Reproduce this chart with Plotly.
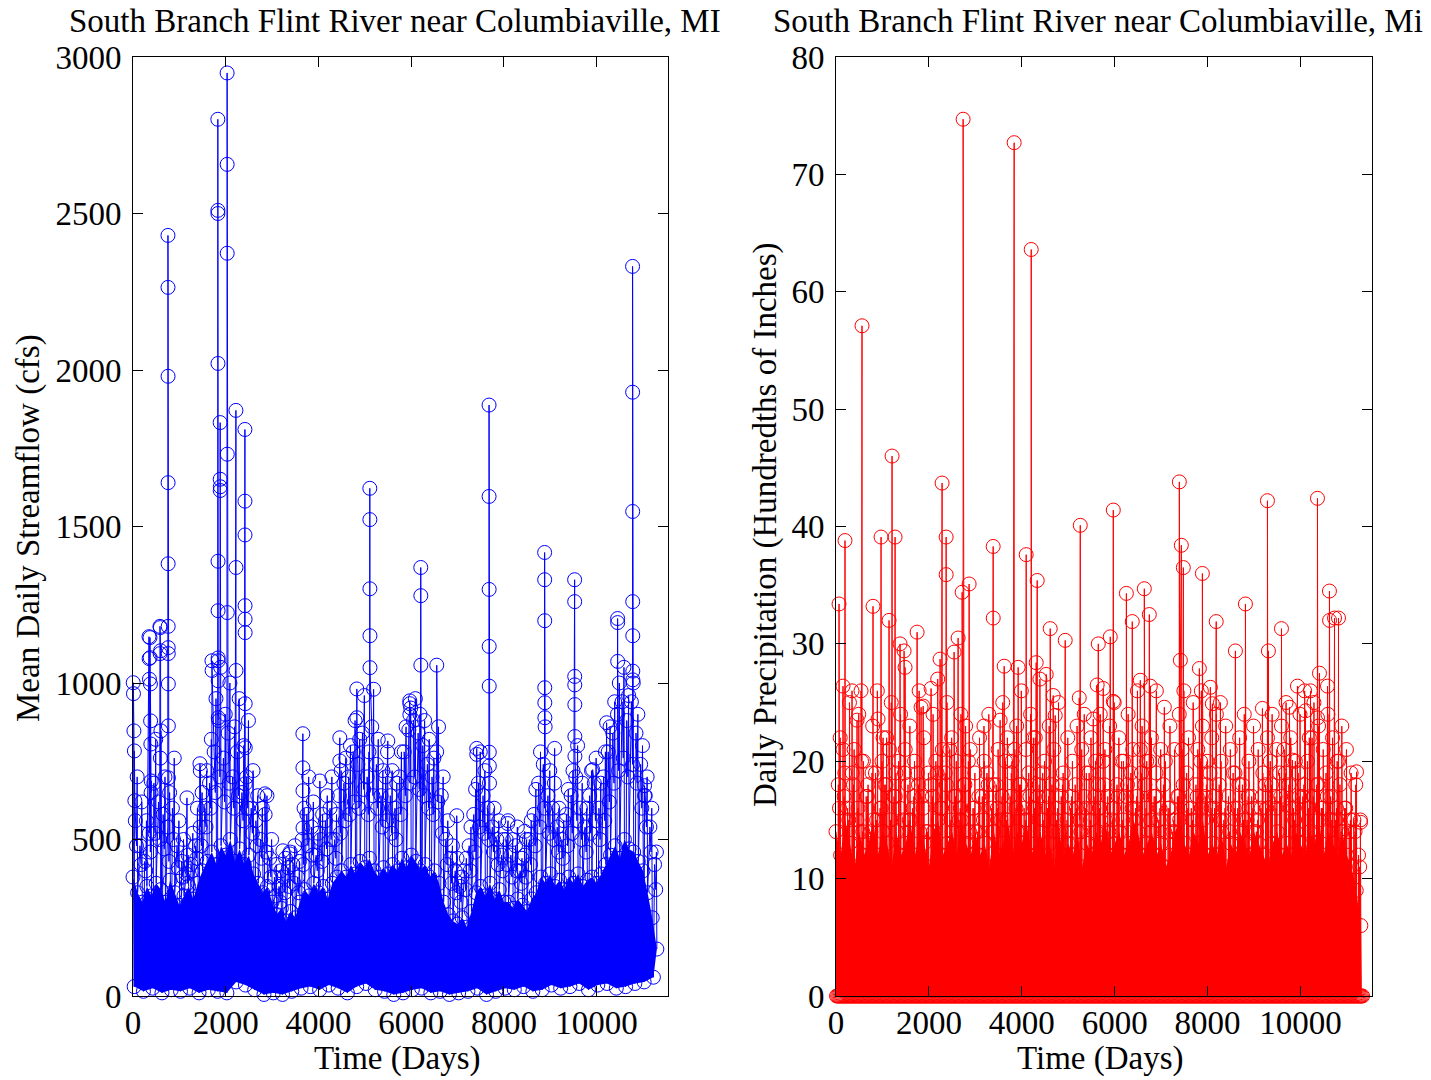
import plotly.graph_objects as go

# ---------------- Left panel: mean daily streamflow (cfs) ----------------
# top of the dense (solid) part of the hydrograph, read every 100 days
band_days = list(range(0, 11400, 100))
band_high_cfs = [380, 330, 300, 350, 320, 360, 340, 300, 370, 330, 290, 320, 350, 310, 360,
                 400, 430, 460, 420, 480, 450, 500, 430, 470, 420, 450, 390,
                 360, 330, 350, 300,
                 260, 280, 240, 270, 250, 300,
                 340, 320, 360, 330, 350, 310, 360, 380,
                 400, 380, 420, 390, 430, 410, 440, 400, 380, 410,
                 390, 420, 400, 440, 410, 450, 430, 400, 420, 380, 400, 360,
                 300, 260, 240, 230, 250, 220, 270,
                 330, 350, 320, 360, 310, 340, 300,
                 300, 280, 310, 290, 270, 310, 330,
                 380, 360, 390, 350, 370, 340, 380, 360, 390, 350, 370, 380, 360, 390, 420,
                 450, 480, 440, 500, 470, 460, 430, 400,
                 330, 250, 150]
# low-flow floor, read every 200 days
low_days = list(range(25, 11400, 200))
low_cfs = [30, 15, 25, 10, 20, 15, 25, 10, 20, 15, 10, 45, 35, 20, 5,
           10, 5, 15, 25, 30, 20, 35, 25, 10, 30, 40, 20, 15, 5,
           10, 20, 25, 10, 15, 5, 10, 15, 25, 5, 15, 25, 20, 30,
           15, 20, 35, 25, 30, 40, 20, 35, 40, 25, 30, 40, 45,
           60]
# fringe of moderate high flows
fringe_days = list(range(50, 11300, 100))
fringe_cfs = [560, 480, 430, 520, 680, 620, 580, 540, 600, 480, 430, 390, 420, 480, 540,
              600, 680, 780, 880, 760, 840, 700, 780, 650, 700, 600, 560, 500,
              580, 440, 380, 350, 380, 410, 420, 380, 500, 580, 540, 450, 500,
              560, 600, 500, 640, 680, 700, 780, 740, 840, 700, 860, 740, 640,
              700, 640, 600, 700, 780, 850, 880, 840, 800, 740, 700, 780, 640,
              500, 440, 400, 350, 400, 480, 580, 680, 640, 600, 540, 500, 450,
              500, 450, 480, 400, 450, 500, 580, 680, 740, 640, 600, 540, 500,
              580, 640, 700, 600, 540, 640, 680, 600, 700, 780, 840, 900,
              940, 880, 940, 840, 740, 640, 540, 420]
# intermediate flows between the solid part and the fringe
mid_days = list(range(75, 11300, 100))
mid_cfs = [480, 420, 400, 460, 520, 500, 470, 430, 500, 410, 380, 360, 400, 440, 480,
           540, 600, 650, 700, 620, 680, 600, 640, 560, 600, 520, 480, 440,
           460, 380, 320, 300, 330, 350, 360, 330, 420, 480, 450, 400, 430,
           470, 500, 440, 520, 560, 580, 620, 600, 660, 580, 640, 600, 540,
           560, 520, 500, 580, 640, 680, 700, 660, 640, 600, 580, 620, 520,
           420, 360, 330, 300, 340, 400, 460, 540, 520, 500, 460, 420, 400,
           420, 380, 400, 360, 380, 420, 480, 540, 600, 520, 500, 460, 440,
           480, 520, 560, 500, 460, 520, 560, 500, 560, 620, 680, 720,
           760, 700, 740, 680, 600, 540, 460, 340]
# higher scattered flows above the fringe
upper_days = list(range(90, 11300, 100))
upper_cfs = [700, 620, 560, 650, 820, 760, 700, 650, 760, 560, 500, 450, 520, 600, 650,
             720, 820, 950, 1050, 900, 1000, 860, 950, 800, 880, 720, 640, 600,
             640, 500, 420, 400, 440, 460, 480, 430, 600, 700, 620, 520, 580,
             640, 700, 580, 720, 760, 800, 880, 820, 960, 780, 980, 820, 720,
             780, 720, 680, 780, 860, 920, 950, 900, 880, 820, 760, 860, 700,
             560, 480, 440, 380, 440, 540, 660, 780, 720, 680, 600, 560, 500,
             560, 500, 540, 440, 500, 560, 660, 780, 860, 720, 680, 600, 560,
             660, 720, 800, 680, 600, 720, 760, 680, 780, 860, 940, 1000,
             1050, 960, 1000, 900, 800, 700, 600, 460]
# individual flood peaks (consecutive days around each event)
peak_days = [5, 10, 20, 30, 40, 345, 348, 355, 366, 370, 376, 380, 385, 392,
             582, 585, 588, 595, 602,
             754, 755, 756, 757, 758, 759, 760, 761, 762, 763, 764,
             1164, 1444, 1452, 1703, 1706,
             1830, 1831, 1832, 1833, 1834, 1835, 1836, 1837, 1838, 1839,
             1880, 1881, 1882, 1883,
             2030, 2031, 2032, 2033, 2034, 2220, 2221, 2222,
             2414, 2415, 2416, 2417, 2418, 2419, 2420, 2421, 2422,
             2845, 3233, 3384, 3664, 3665, 3666, 3667, 4030, 4461, 4462, 4828, 4829,
             5108, 5109, 5110, 5111, 5112, 5496, 5970, 5971, 5972, 6207, 6208, 6209,
             6552, 6983, 7414, 7415,
             7680, 7681, 7682, 7683, 7684, 7685, 7686, 8082, 8448,
             8879, 8880, 8881, 8882, 8883, 8884, 9095,
             9526, 9527, 9528, 9529, 9530, 9531, 9532, 9914, 10216,
             10453, 10454, 10455,
             10776, 10777, 10778, 10779, 10780, 10781, 10782, 11034, 11035]
peak_cfs = [1001, 966, 847, 783, 624, 1148, 1078, 1012, 1145, 1081, 997, 879, 805, 687,
            1181, 1094, 1177, 1103, 847,
            2430, 2264, 1980, 1640, 1381, 1181, 1113, 1094, 997, 863, 697,
            633, 742, 720, 1071, 1040,
            2801, 2510, 2500, 2021, 1389, 1231, 1080, 1071, 1007, 889,
            1832, 1651, 1615, 1627,
            2949, 2657, 2373, 1731, 1225, 1871, 1369, 1040,
            1810, 1581, 1473, 1247, 1204, 1161, 934, 793, 678,
            646, 464, 454, 838, 729, 656, 537, 687, 825, 751, 981, 889,
            1622, 1522, 1301, 1151, 1049, 815, 943, 934, 899, 1369, 1279, 1057,
            1057, 576, 791, 772,
            1888, 1596, 1299, 1117, 990, 779, 735, 551, 526,
            1417, 1330, 1199, 985, 937, 889, 791,
            1330, 1260, 1021, 994, 931, 829, 766, 723, 873,
            1206, 1193, 1069,
            2331, 1929, 1548, 1260, 1151, 1038, 1010, 672, 640]

# ---------------- Right panel: daily precipitation (hundredths of inches) ----------------
rain_band_days = list(range(0, 11400, 100))
rain_band_in = [14, 12, 15, 13, 11, 14, 12, 13, 15, 12, 14, 13, 11, 14, 12,
                13, 15, 12, 14, 13, 11, 14, 15, 12, 13, 14, 12,
                15, 13, 12, 14,
                12, 13, 11, 14, 12, 13,
                15, 12, 14, 13, 15, 12, 13, 14,
                12, 13, 11, 14, 12, 13, 12, 14, 11, 13,
                12, 14, 13, 15, 12, 13, 14, 12, 13, 15, 14, 12,
                13, 14, 12, 13, 11, 12, 14,
                15, 13, 12, 14, 13, 15, 12,
                13, 12, 14, 11, 13, 12, 14,
                13, 12, 14, 13, 12, 11, 13, 14, 12, 13, 12, 14, 13, 12, 14,
                13, 15, 12, 14, 13, 12, 14, 12,
                11, 9, 6]
rain_fringe_days = list(range(50, 11300, 100))
rain_fringe_in = [18, 21, 16, 19, 15, 20, 17, 14, 19, 16, 18, 21, 17, 20, 15,
                  18, 16, 19, 17, 14, 18, 20, 16, 19, 21, 17, 15, 18,
                  20, 16, 14, 17, 19, 16, 18, 15, 20, 17, 21, 18, 16,
                  19, 22, 17, 19, 16, 18, 15, 17, 14, 16, 18, 15, 17,
                  19, 16, 18, 20, 17, 15, 18, 20, 17, 19, 16, 21, 18,
                  20, 17, 15, 18, 16, 14, 17, 21, 19, 16, 18, 20, 17,
                  19, 16, 18, 15, 17, 19, 16, 18, 15, 17, 14, 16, 18,
                  20, 17, 19, 21, 18, 16, 19, 17, 20, 22, 18, 16,
                  19, 17, 15, 18, 16, 14, 15, 12]
rain_mid_days = list(range(75, 11300, 100))
rain_mid_in = [16, 17, 15, 18, 16, 14, 17, 19, 15, 16, 18, 15, 17, 16, 19,
               15, 17, 18, 16, 14, 17, 19, 16, 18, 15, 17, 16, 18,
               14, 16, 17, 15, 18, 14, 16, 17, 15, 19, 16, 18, 15,
               17, 16, 18, 15, 17, 14, 16, 18, 15, 17, 16, 14, 16,
               15, 17, 16, 18, 14, 16, 17, 15, 18, 16, 17, 19, 16,
               15, 17, 16, 14, 16, 15, 17, 18, 16, 15, 17, 16, 18,
               16, 17, 15, 16, 14, 16, 18, 15, 17, 16, 15, 17, 16,
               18, 16, 17, 19, 16, 15, 17, 18, 16, 17, 18, 16,
               17, 15, 16, 14, 16, 15, 14, 11]
rain_upper_days = list(range(90, 11300, 100))
rain_upper_in = [22, 19, 25, 21, 24, 20, 18, 23, 26, 20, 22, 25, 19, 24, 21,
                 23, 20, 26, 22, 19, 24, 27, 21, 25, 22, 20, 24, 23,
                 21, 19, 22, 20, 24, 18, 21, 25, 22, 20, 23, 26, 21,
                 24, 22, 27, 20, 23, 21, 25, 19, 22, 20, 23, 21, 19,
                 22, 20, 24, 21, 23, 25, 22, 20, 24, 21, 26, 23, 20,
                 22, 19, 21, 20, 23, 21, 24, 26, 22, 25, 21, 23, 20,
                 22, 24, 20, 23, 21, 19, 22, 24, 20, 23, 21, 19, 22,
                 24, 21, 23, 25, 22, 20, 24, 26, 22, 25, 23, 21,
                 24, 22, 20, 23, 21, 19, 18, 15]
# dry days (zero precipitation) occur all through the record
dry_days = list(range(12, 11360, 25))
dry_in = [0] * len(dry_days)
rain_peak_days = [65, 151, 194, 345, 453, 539, 560, 797, 905, 970, 1013, 1142, 1207, 1272,
                  1379, 1466, 1487, 1746, 1832, 1877, 2047, 2241, 2284, 2371, 2372, 2543,
                  2629, 2716, 2737, 2866, 3186, 3384, 3385, 3534, 3621, 3836, 3922, 4095,
                  4203, 4310, 4332, 4526, 4612, 4677, 4720, 4935, 5237, 5259, 5345, 5539,
                  5623, 5647, 5754, 5905, 5970, 5971, 6252, 6379, 6552, 6638, 6746, 6767,
                  6897, 7069, 7392, 7414, 7435, 7478, 7823, 7866, 7888, 8060, 8103, 8186,
                  8276, 8599, 8815, 9181, 9289, 9310, 9591, 9763, 9828, 9935, 10108, 10216,
                  10366, 10367, 10409, 10582, 10624, 10626, 10733, 10819, 10820, 11207, 11293]
rain_peak_in = [33.4, 26.4, 38.8, 26.0, 23.5, 26.0, 57.1, 33.2, 23.6, 39.1, 22.0, 32.0, 46.0, 39.1,
                30.0, 29.4, 28.0, 31.0, 24.6, 24.7, 26.2, 28.7, 43.7, 39.1, 35.9, 29.3,
                30.5, 34.4, 74.7, 35.1, 23.0, 38.3, 32.2, 23.5, 28.1, 72.7, 28.0, 37.6,
                63.6, 28.4, 35.4, 27.4, 31.3, 25.6, 23.9, 30.3, 25.4, 40.1, 24.0, 23.6,
                26.5, 30.0, 26.2, 30.6, 41.4, 25.1, 34.3, 31.9, 26.9, 34.7, 32.5, 26.4,
                26.0, 24.6, 43.8, 28.6, 38.4, 36.5, 27.9, 26.0, 36.0, 26.3, 24.9, 31.9,
                25.0, 29.4, 33.4, 24.5, 42.2, 29.4, 31.3, 24.6, 20.1, 26.4, 24.3, 26.0,
                42.4, 23.7, 27.5, 26.4, 34.5, 32.0, 32.2, 32.2, 20.0, 19.1, 14.8]

# tick labels
x_ticks = [0, 2000, 4000, 6000, 8000, 10000]
flow_ticks = [0, 500, 1000, 1500, 2000, 2500, 3000]
rain_ticks = [0, 10, 20, 30, 40, 50, 60, 70, 80]

BLUE = "#0000FF"
RED = "#FF0000"
FONT = "Liberation Serif"
FS = 33


def merged(*groups):
    pts = []
    for d, v in groups:
        pts.extend(zip(d, v))
    pts.sort(key=lambda p: p[0])
    return [p[0] for p in pts], [p[1] for p in pts]


flow_x, flow_y = merged((band_days, band_high_cfs), (low_days, low_cfs), (fringe_days, fringe_cfs),
                        (mid_days, mid_cfs), (upper_days, upper_cfs), (peak_days, peak_cfs))
rain_x, rain_y = merged((rain_band_days, rain_band_in), (dry_days, dry_in),
                        (rain_fringe_days, rain_fringe_in), (rain_mid_days, rain_mid_in),
                        (rain_upper_days, rain_upper_in), (rain_peak_days, rain_peak_in))

mk = lambda c: dict(symbol="circle-open", size=14, color=c, line=dict(width=1, color=c))

fig = go.Figure()
# left: solid band between low-flow floor and top of dense part
fig.add_trace(go.Scatter(x=low_days, y=low_cfs, mode="lines", line=dict(width=0, color=BLUE),
                         hoverinfo="skip", showlegend=False, xaxis="x", yaxis="y"))
fig.add_trace(go.Scatter(x=band_days, y=band_high_cfs, mode="lines", line=dict(width=0, color=BLUE),
                         fill="tonexty", fillcolor=BLUE, hoverinfo="skip", showlegend=False,
                         xaxis="x", yaxis="y"))
fig.add_trace(go.Scatter(x=flow_x, y=flow_y, mode="lines+markers", line=dict(color=BLUE, width=1),
                         marker=mk(BLUE), cliponaxis=False, showlegend=False, xaxis="x", yaxis="y"))
# right
fig.add_trace(go.Scatter(x=rain_band_days, y=rain_band_in, mode="lines", line=dict(width=0, color=RED),
                         fill="tozeroy", fillcolor=RED, hoverinfo="skip", showlegend=False,
                         xaxis="x2", yaxis="y2"))
fig.add_trace(go.Scatter(x=rain_x, y=rain_y, mode="lines+markers", line=dict(color=RED, width=1),
                         marker=mk(RED), cliponaxis=False, showlegend=False, xaxis="x2", yaxis="y2"))

# page body margin is removed (post_script below), so figure pixels = page pixels
W, H = 1431, 1080
px = lambda p: p / W          # page x pixel -> paper x
py = lambda p: 1 - p / H      # page y pixel -> paper y
top, bottom = 57, 996
ydom = [py(bottom), py(top)]
axis_common = dict(showline=True, linecolor="black", linewidth=1, mirror="ticks",
                   ticks="inside", ticklen=10, tickwidth=1, tickcolor="black",
                   showgrid=False, zeroline=False, automargin=False,
                   tickfont=dict(family=FONT, size=FS, color="black"))

fig.update_layout(
    width=W, height=H, paper_bgcolor="white", plot_bgcolor="white",
    margin=dict(l=0, r=0, t=0, b=0, autoexpand=False), showlegend=False,
    font=dict(family=FONT, size=FS, color="black"),
    xaxis=dict(domain=[px(133), px(668)], range=[0, 11540], tickvals=x_ticks, ticklabelstandoff=-3,
               ticktext=[str(t) for t in x_ticks], anchor="y", **axis_common),
    yaxis=dict(domain=ydom, range=[0, 3000], tickvals=flow_ticks, ticklabelstandoff=4,
               ticktext=[str(t) for t in flow_ticks], anchor="x", **axis_common),
    xaxis2=dict(domain=[px(836), px(1372)], range=[0, 11540], tickvals=x_ticks, ticklabelstandoff=-3,
                ticktext=[str(t) for t in x_ticks], anchor="y2", **axis_common),
    yaxis2=dict(domain=ydom, range=[0, 80], tickvals=rain_ticks, ticklabelstandoff=4,
                ticktext=[str(t) for t in rain_ticks], anchor="x2", **axis_common),
)

ann = dict(xref="paper", yref="paper", showarrow=False, borderpad=0,
           font=dict(family=FONT, size=FS, color="black"))
fig.add_annotation(text="South Branch Flint River near Columbiaville, MI",
                   x=px(395), y=py(21), xanchor="center", yanchor="middle", **ann)
fig.add_annotation(text="South Branch Flint River near Columbiaville, Mi",
                   x=px(1098), y=py(21), xanchor="center", yanchor="middle", **ann)
fig.add_annotation(text="Time (Days)", x=px(397), y=py(1058), xanchor="center", yanchor="middle", **ann)
fig.add_annotation(text="Time (Days)", x=px(1100), y=py(1058), xanchor="center", yanchor="middle", **ann)
fig.add_annotation(text="Mean Daily Streamflow (cfs)", x=px(28), y=py(528), textangle=-90,
                   xanchor="center", yanchor="middle", **ann)
fig.add_annotation(text="Daily Precipitation (Hundredths of Inches)", x=px(765), y=py(525),
                   textangle=-90, xanchor="center", yanchor="middle", **ann)

fig.write_html("out.html", config={"displayModeBar": False},
               post_script="document.body.style.margin='0px';document.body.style.padding='0px';")
